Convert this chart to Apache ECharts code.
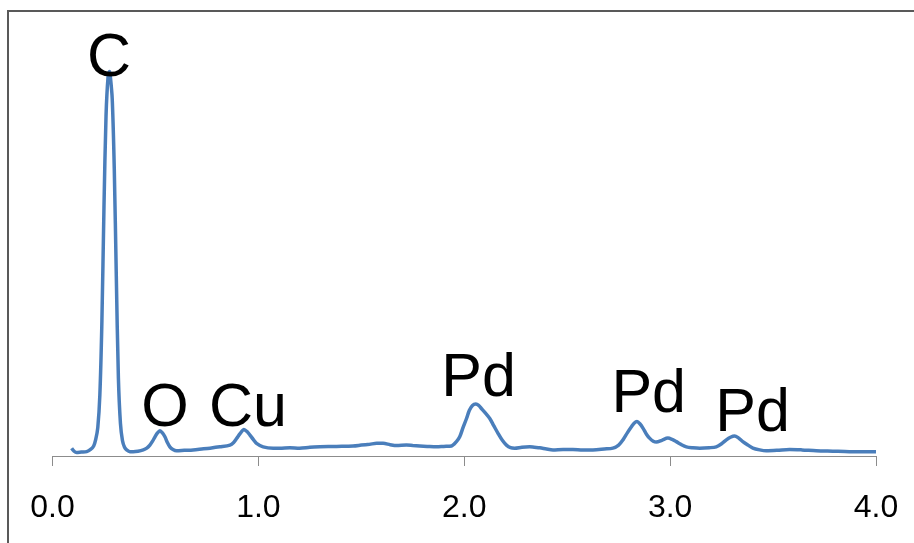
<!DOCTYPE html>
<html>
<head>
<meta charset="utf-8">
<title>EDS spectrum</title>
<script src="https://cdn.jsdelivr.net/npm/echarts@6/dist/echarts.min.js"></script>
<style>
  html, body { margin: 0; padding: 0; background: #ffffff; }
  #chart { width: 914px; height: 543px; }
</style>
</head>
<body>
<div id="chart"></div>
<script>
// Energy (keV) of each sampled point of the spectrum
const energy = [
  0.093, 0.105, 0.117, 0.14, 0.166, 0.185, 0.20, 0.21, 0.22, 0.23,
  0.24, 0.25, 0.26, 0.27, 0.277, 0.28, 0.29, 0.30, 0.31, 0.32,
  0.33, 0.34, 0.35, 0.36, 0.376, 0.392, 0.415, 0.441, 0.458, 0.473,
  0.486, 0.498, 0.51, 0.522, 0.534, 0.546, 0.558, 0.570, 0.585, 0.603,
  0.64, 0.683, 0.725, 0.765, 0.813, 0.862, 0.88, 0.894, 0.912, 0.930,
  0.945, 0.959, 0.975, 0.991, 1.023, 1.072, 1.104, 1.153, 1.20, 1.25,
  1.299, 1.38, 1.460, 1.50, 1.541, 1.575, 1.606, 1.64, 1.671, 1.719,
  1.75, 1.784, 1.82, 1.865, 1.90, 1.938, 1.962, 1.978, 1.994, 2.011,
  2.025, 2.040, 2.056, 2.070, 2.083, 2.100, 2.124, 2.144, 2.164, 2.185,
  2.205, 2.225, 2.245, 2.28, 2.318, 2.34, 2.367, 2.40, 2.431, 2.48,
  2.528, 2.575, 2.625, 2.68, 2.722, 2.75, 2.771, 2.792, 2.812, 2.825,
  2.839, 2.853, 2.868, 2.885, 2.900, 2.918, 2.933, 2.96, 2.989, 3.01,
  3.030, 3.055, 3.079, 3.11, 3.144, 3.19, 3.224, 3.25, 3.273, 3.293,
  3.313, 3.333, 3.353, 3.378, 3.402, 3.435, 3.467, 3.52, 3.580, 3.64,
  3.710, 3.79, 3.871, 3.94, 4.000
];

// Intensity (counts, arbitrary units) at each energy above
const counts = [
  1.8, 1.1, 0.8, 0.9, 1.0, 1.5, 2.3, 3.8, 6.5, 14,
  31, 57, 78, 87, 88.2, 87.5, 82, 66, 41, 18,
  7.5, 3.5, 2.0, 1.4, 1.0, 1.0, 1.1, 1.4, 1.8, 2.5,
  3.4, 4.4, 5.3, 5.8, 5.3, 4.4, 3.1, 2.1, 1.5, 1.2,
  1.3, 1.4, 1.6, 1.8, 2.1, 2.5, 3.1, 4.0, 5.2, 6.1,
  5.6, 4.8, 3.8, 2.9, 2.1, 1.8, 1.8, 1.9, 1.8, 2.0,
  2.1, 2.2, 2.3, 2.5, 2.7, 2.9, 2.9, 2.6, 2.4, 2.5,
  2.4, 2.3, 2.2, 2.1, 2.2, 2.3, 3.3, 4.4, 6.5, 8.6,
  10.5, 11.6, 11.9, 11.6, 10.9, 10.0, 8.6, 6.9, 5.2, 3.6,
  2.5, 1.9, 1.8, 2.0, 2.1, 2.0, 1.9, 1.6, 1.4, 1.5,
  1.5, 1.4, 1.4, 1.6, 1.8, 2.5, 3.7, 5.3, 6.7, 7.5,
  7.9, 7.4, 6.4, 5.0, 4.1, 3.4, 3.2, 3.6, 4.1, 3.8,
  3.3, 2.6, 2.1, 1.9, 1.8, 1.9, 2.1, 2.8, 3.7, 4.3,
  4.6, 4.1, 3.3, 2.5, 1.8, 1.4, 1.2, 1.3, 1.5, 1.4,
  1.2, 1.1, 1.0, 1.0, 1.0
];

// Element annotations: symbol, energy and height (in counts) of the label centre
const peakNames = ['C', 'O', 'Cu', 'Pd', 'Pd', 'Pd'];
const peakLabelX = [0.274, 0.546, 0.949, 2.070, 2.896, 3.401];
const peakLabelY = [91.0, 10.8, 10.8, 17.7, 14.0, 9.6];

// X axis ticks
const xTicks = [0, 1, 2, 3, 4];

const spectrum = energy.map((e, i) => [e, counts[i]]);
const annotations = peakNames.map((n, i) => ({ value: [peakLabelX[i], peakLabelY[i]], name: n }));

const chart = echarts.init(document.getElementById('chart'), null, { renderer: 'canvas' });

chart.setOption({
  backgroundColor: '#ffffff',
  animation: false,
  textStyle: { fontFamily: '"Liberation Sans", Arial, sans-serif' },
  grid: { left: 52.5, right: 38, top: 20, bottom: 87, containLabel: false },
  graphic: [
    {
      type: 'polyline',
      shape: { points: [[8, 543], [8, 11], [914, 11]] },
      style: { stroke: '#595959', lineWidth: 2, fill: null },
      silent: true
    }
  ],
  xAxis: {
    type: 'value',
    min: xTicks[0],
    max: xTicks[xTicks.length - 1],
    interval: 1,
    axisLine: { show: true, lineStyle: { color: '#8c8c8c', width: 1 } },
    axisTick: { show: true, inside: false, length: 10, lineStyle: { color: '#8c8c8c', width: 1 } },
    splitLine: { show: false },
    axisLabel: {
      margin: 36,
      fontSize: 32,
      color: '#000000',
      fontFamily: '"Liberation Sans", Arial, sans-serif',
      formatter: v => v.toFixed(1)
    }
  },
  yAxis: {
    type: 'value',
    min: 0,
    max: 100,
    show: false
  },
  series: [
    {
      type: 'line',
      data: spectrum,
      showSymbol: false,
      smooth: 0.3,
      lineStyle: { color: '#4a7ebb', width: 3.5 },
      z: 3
    },
    {
      type: 'scatter',
      data: annotations,
      symbolSize: 0,
      silent: true,
      z: 4,
      itemStyle: { opacity: 1 },
      label: {
        show: true,
        position: 'inside',
        formatter: p => p.name,
        fontSize: 61,
        color: '#000000',
        opacity: 1,
        fontFamily: '"Liberation Sans", Arial, sans-serif'
      }
    }
  ]
});
</script>
</body>
</html>
